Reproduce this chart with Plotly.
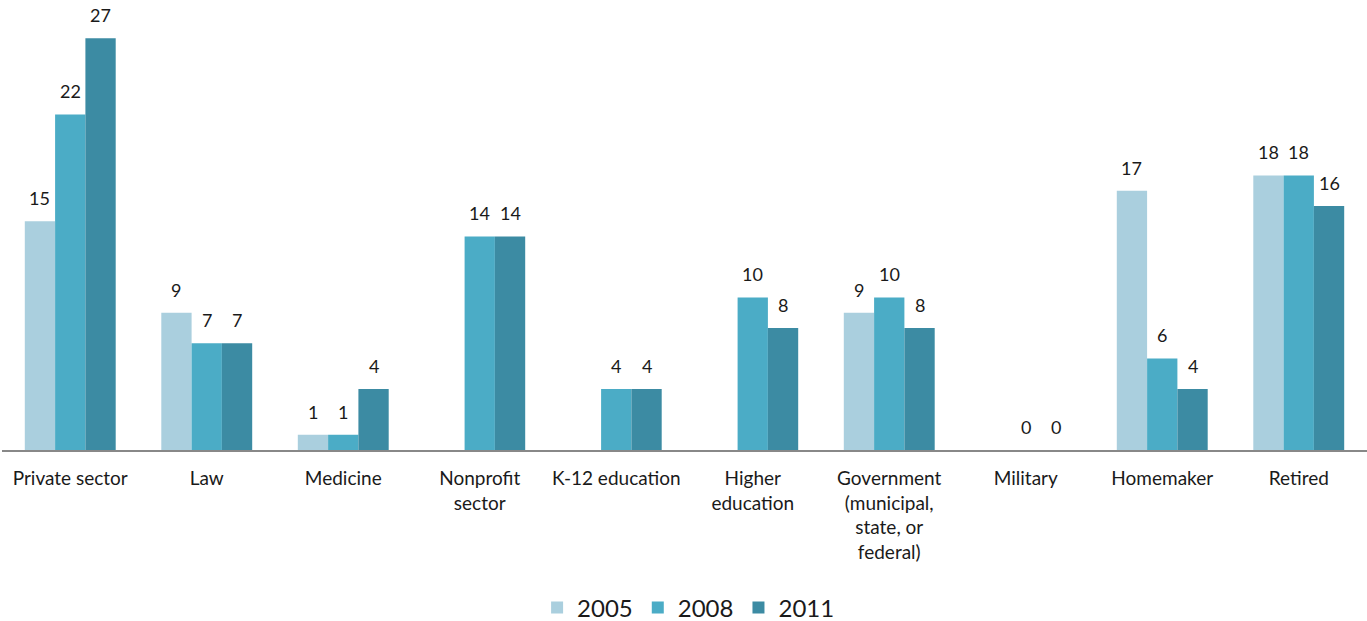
import plotly.graph_objects as go

# Share of respondents by current occupation, per survey year
categories = [
    "Private sector", "Law", "Medicine", "Nonprofit<br>sector", "K-12 education",
    "Higher<br>education", "Government<br>(municipal,<br>state, or<br>federal)",
    "Military", "Homemaker", "Retired",
]
years = ["2005", "2008", "2011"]
values_2005 = [15, 9, 1, None, None, None, 9, None, 17, 18]
values_2008 = [22, 7, 1, 14, 4, 10, 10, 0, 6, 18]
values_2011 = [27, 7, 4, 14, 4, 8, 8, 0, 4, 16]
colors = ["#AACFDE", "#4BACC6", "#3C8BA3"]

series = [values_2005, values_2008, values_2011]
x_pos = list(range(len(categories)))
bargap = 0.334
bar_w = (1 - bargap) / len(series)

fig = go.Figure()
annotations = []
for k, (year, vals, col) in enumerate(zip(years, series, colors)):
    fig.add_trace(go.Bar(
        x=x_pos, y=vals, name=year,
        marker=dict(color=col, line=dict(width=0)),
        hoverinfo="skip",
    ))
    offset = (k - 1) * bar_w
    for i, v in enumerate(vals):
        if v is None:
            continue
        annotations.append(dict(
            x=i + offset, y=v, xref="x", yref="y",
            text=str(v), showarrow=False,
            yanchor="middle", yshift=23,
            font=dict(family="Lato, 'Open Sans', sans-serif", size=18, color="#1a1a1a"),
        ))

fig.update_layout(
    barmode="group", bargap=bargap, bargroupgap=0,
    width=1367, height=621,
    margin=dict(l=2, r=0, t=0, b=171, autoexpand=False),
    paper_bgcolor="white", plot_bgcolor="white",
    font=dict(family="Lato, 'Open Sans', sans-serif", color="#1a1a1a"),
    annotations=annotations,
    legend=dict(
        orientation="h", x=0.503, xanchor="center", y=-0.351, yanchor="middle",
        font=dict(size=24, color="#1a1a1a"), itemwidth=30, traceorder="normal",
    ),
    xaxis=dict(
        tickmode="array", tickvals=x_pos, ticktext=categories,
        range=[-0.5, len(categories) - 0.5],
        showline=True, linecolor="#888888", linewidth=2,
        ticks="", showgrid=False, zeroline=False, automargin=False,
        tickfont=dict(size=19, color="#1a1a1a"),
        ticklabelstandoff=10,
    ),
    yaxis=dict(
        range=[0, 29.5], visible=False, showgrid=False, zeroline=False,
    ),
)

fig.write_html("out.html")
